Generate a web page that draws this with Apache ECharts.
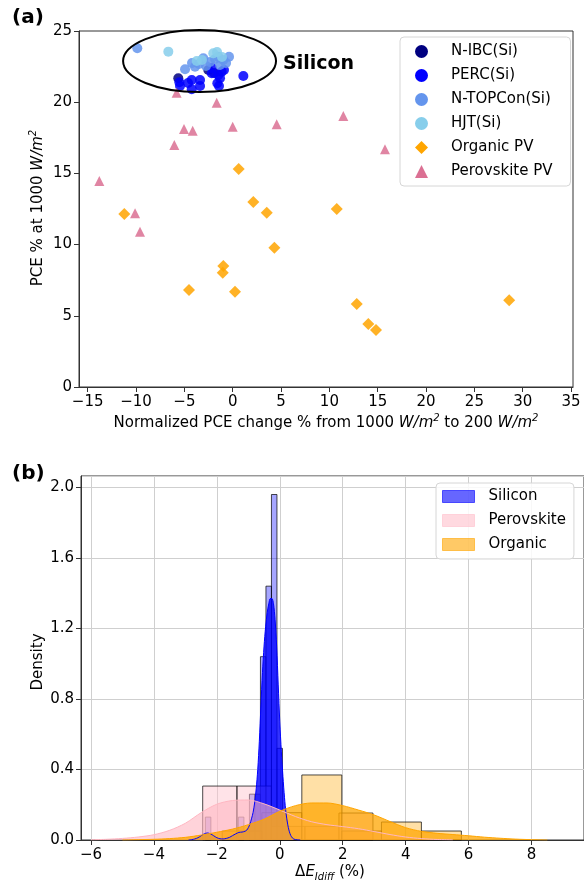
<!DOCTYPE html>
<html>
<head>
<meta charset="utf-8">
<script src="https://cdn.jsdelivr.net/npm/echarts@6/dist/echarts.min.js"></script>
<style>
  html, body { margin: 0; padding: 0; background: #fff; }
  #chart { width: 584px; height: 882px; }
</style>
</head>
<body>
<div id="chart"></div>
<script>
// ---------- panel (a): [normalized PCE change %, PCE % at 1000 W/m2] ----------
var nIbcPoints = [[-2.52, 22.26], [-5.63, 21.68], [-1.93, 22.05]];
var percPoints = [
  [-2.17, 22.03], [-1.49, 21.91], [-1.14, 22.14], [-5.52, 21.40], [-4.24, 21.56],
  [-3.38, 21.56], [-1.59, 21.33], [-1.31, 21.68], [1.10, 21.84], [-4.24, 20.91],
  [-3.38, 21.14], [-5.45, 21.14], [-4.62, 21.35], [-0.90, 22.26], [-1.42, 21.14],
  [-2.14, 22.40]
];
var nTopconPoints = [
  [-9.87, 23.79], [-4.93, 22.31], [-3.90, 22.49], [-3.04, 23.08], [-4.21, 22.75],
  [-1.49, 23.19], [-0.97, 22.96], [-0.38, 23.19], [-1.31, 22.61], [-2.35, 22.82],
  [-2.76, 22.54], [-1.83, 23.03], [-0.69, 22.75], [-3.49, 22.68]
];
var hjtPoints = [[-6.66, 23.55], [-3.72, 22.89], [-2.01, 23.43], [-1.62, 23.52], [-1.11, 23.17], [-3.18, 22.96]];
var organicPoints = [
  [0.62, 15.31], [2.13, 12.99], [3.52, 12.24], [-11.21, 12.15], [4.31, 9.78],
  [-0.97, 8.50], [-1.03, 8.03], [-4.52, 6.81], [0.24, 6.69], [10.76, 12.50],
  [12.83, 5.83], [14.03, 4.42], [14.82, 4.00], [28.6, 6.09]
];
var perovskitePoints = [
  [-13.8, 14.47], [-10.1, 12.2], [-9.59, 10.91], [-6.04, 17.0], [-5.04, 18.12],
  [-4.14, 18.0], [-5.8, 20.67], [-1.66, 19.97], [0.0, 18.28], [4.55, 18.45],
  [11.44, 19.03], [15.75, 16.69]
];
// outline round the silicon cluster: centre x, centre y, half width, half height (data units)
var siliconOutline = [[-3.43, 22.89, 7.91, 2.18]];
var xTicksA = [-15, -10, -5, 0, 5, 10, 15, 20, 25, 30, 35];

// ---------- panel (b): histograms (bin edges + density) and KDE curves ----------
var siliconEdges = [-2.365, -2.19, -2.015, -1.84, -1.665, -1.49, -1.315, -1.14, -0.965, -0.79, -0.615, -0.44, -0.265, -0.09, 0.085];
var siliconDensity = [0.13, 0, 0, 0, 0, 0, 0.13, 0, 0.26, 0.26, 1.04, 1.44, 1.96, 0.52];
var perovskiteEdges = [-2.45, -1.36, -0.27, 0.80, 1.88, 2.96];
var perovskiteDensity = [0.306, 0.306, 0.077, 0.077, 0.153];
var organicEdges = [-1.83, -0.57, 0.70, 1.97, 3.23, 4.50, 5.77];
var organicDensity = [0.051, 0.155, 0.369, 0.051, 0.102, 0.051];

var siliconKdeX = [
  -2.9, -2.8, -2.7, -2.6, -2.5, -2.4, -2.3, -2.2, -2.1, -2.0, -1.9, -1.8, -1.7, -1.6, -1.5, -1.4, -1.3,
  -1.2, -1.15, -1.1, -1.05, -1.0, -0.95, -0.9, -0.85, -0.8, -0.75, -0.7, -0.65, -0.6, -0.55, -0.5,
  -0.45, -0.4, -0.35, -0.3, -0.25, -0.2, -0.15, -0.1, -0.05, 0.0, 0.05, 0.1, 0.15, 0.2, 0.25, 0.3,
  0.35, 0.4, 0.45, 0.55, 0.65
];
var siliconKdeY = [
  0.0, 0.002, 0.006, 0.013, 0.024, 0.035, 0.04, 0.035, 0.024, 0.013, 0.007, 0.006, 0.009, 0.015, 0.025, 0.035, 0.043,
  0.045, 0.047, 0.05, 0.056, 0.07, 0.09, 0.12, 0.155, 0.21, 0.29, 0.40, 0.56, 0.76, 0.95, 1.10,
  1.21, 1.29, 1.34, 1.37, 1.37, 1.34, 1.25, 1.10, 0.88, 0.67, 0.50, 0.36, 0.24, 0.15, 0.09, 0.05,
  0.025, 0.012, 0.005, 0.001, 0.0
];
var perovskiteKdeX = [-6.0, -5.5, -5.0, -4.5, -4.0, -3.5, -3.0, -2.5, -2.0, -1.5, -1.0, -0.5, 0.0, 0.5, 1.0, 1.5, 2.0, 2.5, 3.0, 3.5, 4.0, 4.5, 5.0, 5.5];
var perovskiteKdeY = [0.001, 0.004, 0.009, 0.017, 0.03, 0.055, 0.095, 0.155, 0.203, 0.224, 0.227, 0.205, 0.17, 0.133, 0.104, 0.087, 0.076, 0.064, 0.048, 0.031, 0.017, 0.008, 0.003, 0.001];
var organicKdeX = [-5.0, -4.5, -4.0, -3.5, -3.0, -2.5, -2.0, -1.5, -1.0, -0.5, 0.0, 0.5, 1.0, 1.5, 2.0, 2.5, 3.0, 3.5, 4.0, 4.5, 5.0, 5.5, 6.0, 6.5, 7.0, 7.5, 8.0, 8.5];
var organicKdeY = [0.0, 0.002, 0.004, 0.008, 0.015, 0.028, 0.044, 0.062, 0.087, 0.118, 0.163, 0.195, 0.21, 0.21, 0.195, 0.17, 0.142, 0.105, 0.07, 0.049, 0.038, 0.031, 0.024, 0.016, 0.01, 0.005, 0.002, 0.0];
var xTicksB = [-6, -4, -2, 0, 2, 4, 6, 8];

var FONT = 'DejaVu Sans';

function binRows(edges, dens) {
  var rows = [];
  for (var i = 0; i < dens.length; i++) {
    if (dens[i] > 0) rows.push([edges[i], edges[i + 1], dens[i]]);
  }
  return rows;
}
function zip(xs, ys) {
  return xs.map(function (x, i) { return [x, ys[i]]; });
}
function minusFmt(v) {
  return v < 0 ? '\u2212' + Math.abs(v) : String(v);
}
function histRender(fill) {
  return function (params, api) {
    var p0 = api.coord([api.value(0), 0]);
    var p1 = api.coord([api.value(1), api.value(2)]);
    return {
      type: 'rect',
      shape: { x: p0[0], y: p1[1], width: p1[0] - p0[0], height: p0[1] - p1[1] },
      style: { fill: fill, stroke: 'rgba(0,0,0,0.7)', lineWidth: 1 }
    };
  };
}
function scatter(name, data, color, symbol, size) {
  return {
    type: 'scatter', name: name, xAxisIndex: 0, yAxisIndex: 0,
    data: data, symbol: symbol, symbolSize: size,
    itemStyle: { color: color, opacity: 0.85 }
  };
}
function kde(name, xs, ys, line, fill) {
  return {
    type: 'line', name: name, xAxisIndex: 1, yAxisIndex: 1,
    data: zip(xs, ys), smooth: 0.3, symbol: 'none',
    lineStyle: { color: line, width: 1 },
    itemStyle: { color: line },
    areaStyle: { color: fill, opacity: 1 }
  };
}

var tickLabel = { fontSize: 15, color: '#000', fontFamily: FONT };
var axisLine = { show: true, onZero: false, lineStyle: { color: '#333', width: 1 } };

var option = {
  animation: false,
  backgroundColor: '#fff',
  textStyle: { fontFamily: FONT },
  grid: [
    { left: 79, top: 31, width: 494, height: 356, show: true, borderColor: '#333', borderWidth: 1 },
    { left: 81, top: 476, width: 505, height: 364, show: true, borderColor: '#333', borderWidth: 1 }
  ],
  xAxis: [
    {
      type: 'value', gridIndex: 0, min: -15.9, max: 35.2,
      axisLine: axisLine,
      axisTick: { show: true, length: 5, customValues: xTicksA, lineStyle: { color: '#333' } },
      axisLabel: Object.assign({ customValues: xTicksA, margin: 8, formatter: minusFmt }, tickLabel),
      splitLine: { show: false }
    },
    {
      type: 'value', gridIndex: 1, min: -6.317, max: 9.667,
      axisLine: axisLine,
      axisTick: { show: true, length: 5, customValues: xTicksB, lineStyle: { color: '#333' } },
      axisLabel: Object.assign({ customValues: xTicksB, margin: 8, formatter: minusFmt }, tickLabel),
      splitLine: { show: true, lineStyle: { color: '#cfcfcf', width: 1 } }
    }
  ],
  yAxis: [
    {
      type: 'value', gridIndex: 0, min: 0, max: 25, interval: 5,
      axisLine: axisLine,
      axisTick: { show: true, length: 5, lineStyle: { color: '#333' } },
      axisLabel: Object.assign({ margin: 7 }, tickLabel),
      splitLine: { show: false }
    },
    {
      type: 'value', gridIndex: 1, min: 0, max: 2.065, interval: 0.4,
      axisLine: axisLine,
      axisTick: { show: true, length: 5, lineStyle: { color: '#333' } },
      axisLabel: Object.assign({ margin: 7, showMaxLabel: false, formatter: function (v) { return v.toFixed(1); } }, tickLabel),
      splitLine: { show: true, lineStyle: { color: '#cfcfcf', width: 1 } }
    }
  ],
  legend: [
    {
      orient: 'vertical', left: 400, top: 37,
      itemWidth: 13, itemHeight: 13, itemGap: 7,
      padding: [6, 18, 6, 15],
      borderColor: '#d6d6d6', borderWidth: 1, borderRadius: 4,
      backgroundColor: 'rgba(255,255,255,0.85)',
      textStyle: { fontSize: 15, color: '#000', fontFamily: FONT, lineHeight: 17, padding: [0, 0, 0, 18] },
      data: [
        { name: 'N-IBC(Si)', itemStyle: { opacity: 1 } },
        { name: 'PERC(Si)', itemStyle: { opacity: 1 } },
        { name: 'N-TOPCon(Si)', itemStyle: { opacity: 1 } },
        { name: 'HJT(Si)', itemStyle: { opacity: 1 } },
        { name: 'Organic PV', itemStyle: { opacity: 1 } },
        { name: 'Perovskite PV', itemStyle: { opacity: 1 } }
      ]
    },
    {
      orient: 'vertical', left: 436, top: 483,
      itemWidth: 32, itemHeight: 12, itemGap: 7,
      padding: [5, 8, 6, 6],
      borderColor: '#d6d6d6', borderWidth: 1, borderRadius: 4,
      backgroundColor: 'rgba(255,255,255,0.85)',
      textStyle: { fontSize: 15, color: '#000', fontFamily: FONT, lineHeight: 17, padding: [0, 0, 0, 9] },
      data: [
        { name: 'Silicon', icon: 'rect', itemStyle: { color: 'rgba(0,0,255,0.6)', borderColor: 'rgba(0,0,255,0.6)', borderWidth: 1 } },
        { name: 'Perovskite', icon: 'rect', itemStyle: { color: 'rgba(255,192,203,0.6)', borderColor: 'rgba(255,192,203,0.6)', borderWidth: 1 } },
        { name: 'Organic', icon: 'rect', itemStyle: { color: 'rgba(255,165,0,0.6)', borderColor: 'rgba(255,165,0,0.6)', borderWidth: 1 } }
      ]
    }
  ],
  graphic: [
    { type: 'text', x: 12, y: 18, style: { text: '(a)', fontSize: 20, fontWeight: 'bold', fontFamily: FONT, fill: '#000', verticalAlign: 'middle' } },
    { type: 'text', x: 12, y: 474, style: { text: '(b)', fontSize: 20, fontWeight: 'bold', fontFamily: FONT, fill: '#000', verticalAlign: 'middle' } },
    { type: 'text', x: 283, y: 64, style: { text: 'Silicon', fontSize: 19, fontWeight: 'bold', fontFamily: FONT, fill: '#000', verticalAlign: 'middle' } },
    {
      type: 'text', x: 38, y: 208, rotation: Math.PI / 2,
      style: {
        text: 'PCE % at 1000 {i|W/m}{s|2}', fontSize: 15, fontFamily: FONT, fill: '#000', lineHeight: 20,
        align: 'center', verticalAlign: 'middle',
        rich: {
          i: { fontSize: 15, fontStyle: 'italic', fontFamily: FONT, lineHeight: 20 },
          s: { fontSize: 10, fontStyle: 'italic', fontFamily: FONT, verticalAlign: 'top', lineHeight: 12 }
        }
      }
    },
    {
      type: 'text', x: 326, y: 423,
      style: {
        text: 'Normalized PCE change % from 1000 {i|W/m}{s|2} to 200 {i|W/m}{s|2}', fontSize: 15, fontFamily: FONT, fill: '#000', lineHeight: 20,
        align: 'center', verticalAlign: 'middle',
        rich: {
          i: { fontSize: 15, fontStyle: 'italic', fontFamily: FONT, lineHeight: 20 },
          s: { fontSize: 10, fontStyle: 'italic', fontFamily: FONT, verticalAlign: 'top', lineHeight: 12 }
        }
      }
    },
    {
      type: 'text', x: 38, y: 662, rotation: Math.PI / 2,
      style: { text: 'Density', fontSize: 15, fontFamily: FONT, fill: '#000', align: 'center', verticalAlign: 'middle' }
    },
    {
      type: 'text', x: 330, y: 872,
      style: {
        text: '\u0394{i|E}{sub|Idiff} (%)', fontSize: 15, fontFamily: FONT, fill: '#000', lineHeight: 20,
        align: 'center', verticalAlign: 'middle',
        rich: {
          i: { fontSize: 15, fontStyle: 'italic', fontFamily: FONT, lineHeight: 20 },
          sub: { fontSize: 10, fontStyle: 'italic', fontFamily: FONT, verticalAlign: 'bottom', lineHeight: 12 }
        }
      }
    }
  ],
  series: [
    scatter('N-IBC(Si)', nIbcPoints, '#000080', 'circle', 10),
    scatter('PERC(Si)', percPoints, '#0000ff', 'circle', 10),
    scatter('N-TOPCon(Si)', nTopconPoints, '#6495ed', 'circle', 10),
    scatter('HJT(Si)', hjtPoints, '#87ceeb', 'circle', 10),
    scatter('Organic PV', organicPoints, '#ffa500', 'diamond', 12),
    scatter('Perovskite PV', perovskitePoints, '#db7093', 'triangle', 10),
    {
      type: 'custom', name: 'outline', xAxisIndex: 0, yAxisIndex: 0,
      data: siliconOutline, encode: { x: 0, y: 1 }, z: 5,
      renderItem: function (params, api) {
        var c = api.coord([api.value(0), api.value(1)]);
        var s = api.size([api.value(2), api.value(3)]);
        return {
          type: 'ellipse',
          shape: { cx: c[0], cy: c[1], rx: s[0], ry: s[1] },
          style: { fill: 'none', stroke: '#000', lineWidth: 2 }
        };
      }
    },
    {
      type: 'custom', name: 'Silicon hist', xAxisIndex: 1, yAxisIndex: 1,
      data: binRows(siliconEdges, siliconDensity), encode: { x: [0, 1], y: 2 },
      renderItem: histRender('rgba(0,0,255,0.35)')
    },
    kde('Silicon', siliconKdeX, siliconKdeY, '#0000ff', 'rgba(0,0,255,0.8)'),
    {
      type: 'custom', name: 'Perovskite hist', xAxisIndex: 1, yAxisIndex: 1,
      data: binRows(perovskiteEdges, perovskiteDensity), encode: { x: [0, 1], y: 2 },
      renderItem: histRender('rgba(255,192,203,0.45)')
    },
    kde('Perovskite', perovskiteKdeX, perovskiteKdeY, '#ffb6c1', 'rgba(255,182,193,0.6)'),
    {
      type: 'custom', name: 'Organic hist', xAxisIndex: 1, yAxisIndex: 1,
      data: binRows(organicEdges, organicDensity), encode: { x: [0, 1], y: 2 },
      renderItem: histRender('rgba(255,165,0,0.35)')
    },
    kde('Organic', organicKdeX, organicKdeY, '#ffa500', 'rgba(255,165,0,0.75)')
  ]
};

var chart = echarts.init(document.getElementById('chart'));
chart.setOption(option);
</script>
</body>
</html>
